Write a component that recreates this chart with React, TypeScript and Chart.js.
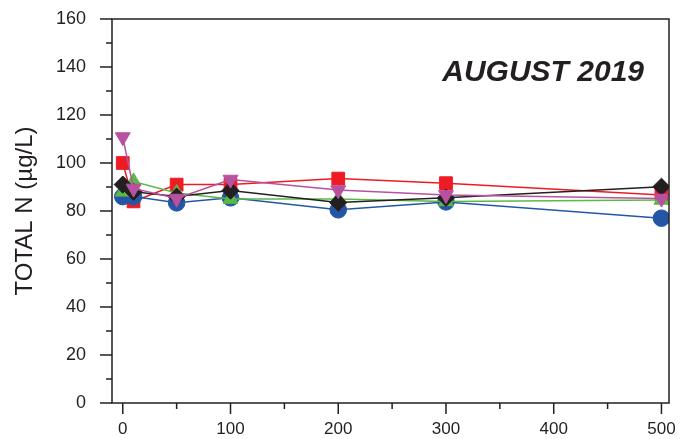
import React, { useEffect, useRef } from "react";
import { Chart, registerables } from "chart.js";

Chart.register(...registerables);

const depths = [0, 10, 50, 100, 200, 300, 500];
const magentaSeries = [110.8, 89.4, 85.2, 93.1, 88.7, 86.7, 85.2];
const redSeries = [100, 84, 91, 91, 93.5, 91.6, 86.7];
const blackSeries = [91, 88, 86, 88.5, 83.5, 85.5, 90.1];
const greenSeries = [88, 92.3, 87.5, 85, 85, 84, 84.6];
const blueSeries = [86, 86, 83.4, 85.5, 80.5, 83.8, 77];

const xMajorTicks = [0, 100, 200, 300, 400, 500];
const xMinorTicks = [50, 150, 250, 350, 450];
const yMajorTicks = [0, 20, 40, 60, 80, 100, 120, 140, 160];
const yMinorTicks = [10, 30, 50, 70, 90, 110, 130, 150];

const titleText = "AUGUST 2019";
const yAxisTitle = "TOTAL N (\u00b5g/L)";

const INK = "#231f20";
const FONT = "'Liberation Sans', Arial, sans-serif";

function mk(label: string, values: number[], color: string, style: string, radius: number, rotation = 0) {
  return {
    label,
    data: depths.map((d, i) => ({ x: d, y: values[i] })),
    borderColor: color,
    backgroundColor: color,
    pointBackgroundColor: color,
    pointBorderColor: color,
    pointBorderWidth: 1,
    borderWidth: 1.5,
    pointStyle: style,
    pointRadius: radius,
    pointRotation: rotation,
    showLine: true,
    tension: 0,
  };
}

const framePlugin = {
  id: "frame",
  afterDraw(chart: any) {
    const { ctx, chartArea, scales } = chart;
    const { left, right, top, bottom } = chartArea;
    const xs = scales.x;
    const ys = scales.y;
    ctx.save();
    ctx.strokeStyle = INK;
    ctx.lineWidth = 1.5;
    ctx.strokeRect(left, top, right - left, bottom - top);
    ctx.beginPath();
    yMajorTicks.forEach((v) => {
      const y = ys.getPixelForValue(v);
      ctx.moveTo(left - 12, y);
      ctx.lineTo(left, y);
    });
    yMinorTicks.forEach((v) => {
      const y = ys.getPixelForValue(v);
      ctx.moveTo(left - 6, y);
      ctx.lineTo(left, y);
    });
    xMajorTicks.forEach((v) => {
      const x = xs.getPixelForValue(v);
      ctx.moveTo(x, bottom);
      ctx.lineTo(x, bottom + 11);
    });
    xMinorTicks.forEach((v) => {
      const x = xs.getPixelForValue(v);
      ctx.moveTo(x, bottom);
      ctx.lineTo(x, bottom + 6);
    });
    ctx.stroke();
    ctx.fillStyle = INK;
    ctx.font = `italic bold 30px ${FONT}`;
    ctx.textAlign = "right";
    ctx.textBaseline = "alphabetic";
    ctx.fillText(titleText, 644, 81);
    ctx.restore();
  },
};

export default function App() {
  const ref = useRef<HTMLCanvasElement>(null);
  useEffect(() => {
    if (!ref.current) return;
    const chart = new Chart(ref.current, {
      type: "scatter",
      data: {
        datasets: [
          mk("magenta", magentaSeries, "#b8519f", "triangle", 8.6, 180),
          mk("black", blackSeries, INK, "rectRot", 8.6),
          mk("green", greenSeries, "#5ab947", "triangle", 8.6),
          mk("blue", blueSeries, "#2556a6", "circle", 8.3),
          mk("red", redSeries, "#ed1c24", "rect", 9),
        ] as any,
      },
      options: {
        animation: false,
        responsive: false,
        maintainAspectRatio: false,
        layout: { padding: { top: 19, right: 19, left: 0, bottom: 0 } },
        plugins: { legend: { display: false }, tooltip: { enabled: false }, title: { display: false } },
        scales: {
          x: {
            type: "linear",
            min: -10,
            max: 507,
            afterBuildTicks: (s: any) => {
              s.ticks = xMajorTicks.map((v) => ({ value: v }));
            },
            afterFit: (s: any) => {
              s.height = 36;
              s.paddingLeft = 0;
              s.paddingRight = 0;
            },
            grid: { display: false, drawTicks: false },
            border: { display: false },
            ticks: {
              color: INK,
              font: { family: FONT, size: 17 },
              padding: 16,
              maxRotation: 0,
              autoSkip: false,
            },
          },
          y: {
            type: "linear",
            min: 0,
            max: 160,
            afterBuildTicks: (s: any) => {
              s.ticks = yMajorTicks.map((v) => ({ value: v }));
            },
            afterFit: (s: any) => {
              s.width = 112;
              s.paddingTop = 0;
              s.paddingBottom = 0;
            },
            grid: { display: false, drawTicks: false },
            border: { display: false },
            ticks: {
              color: INK,
              font: { family: FONT, size: 18 },
              padding: 26,
              autoSkip: false,
            },
            title: {
              display: true,
              text: yAxisTitle,
              color: INK,
              font: { family: FONT, size: 24 },
              padding: { top: 11, bottom: 0 },
            },
          },
        },
      },
      plugins: [framePlugin],
    });
    return () => chart.destroy();
  }, []);
  return (
    <div style={{ position: "absolute", left: 0, top: 0, width: 688, height: 439 }}>
      <canvas ref={ref} width={688} height={439} style={{ width: 688, height: 439, display: "block" }} />
    </div>
  );
}
